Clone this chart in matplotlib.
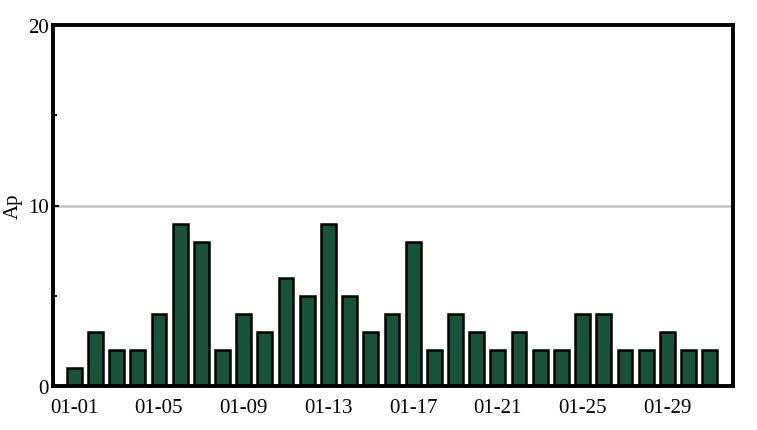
import matplotlib
matplotlib.use("Agg")
import matplotlib.pyplot as plt
import numpy as np

dates = [f"01-{d:02d}" for d in range(1, 32)]
ap = [1, 3, 2, 2, 4, 9, 8, 2, 4, 3, 6, 5, 9, 5, 3, 4, 8, 2, 4, 3, 2, 3, 2, 2, 4, 4, 2, 2, 3, 2, 2]
yticks = [0, 10, 20]

plt.rcParams['font.family'] = ['Liberation Serif', 'DejaVu Serif']
fig = plt.figure(figsize=(7.57, 4.31), dpi=100)
ax = fig.add_axes([53/757, 1-387/431, 680/757, 361/431])

x = np.arange(len(dates))
ax.axhline(10, color='#c0c0c0', lw=1.8, zorder=0)
ax.bar(x, ap, width=0.7, color='#17533a', edgecolor='black', linewidth=1.8, zorder=2)

ax.set_xlim(-1, 31.1)
ax.set_ylim(0, 20)
ax.set_yticks(yticks)
ax.set_yticks([5, 15], minor=True)
ax.set_xticks(x[::4])
ax.set_xticklabels([dates[i] for i in x[::4]])
ax.set_xticks(x, minor=True)
ax.tick_params(axis='both', which='major', direction='in', length=4, width=1.5, labelsize=15, pad=3)
ax.tick_params(axis='both', which='minor', direction='in', length=3, width=1.5)
ax.tick_params(axis='x', which='major', pad=9)
for s in ax.spines.values():
    s.set_linewidth(2.8)
    s.set_color('black')
ax.set_ylabel('Ap', fontsize=15, labelpad=4)

fig.savefig('out.png', dpi=100)
